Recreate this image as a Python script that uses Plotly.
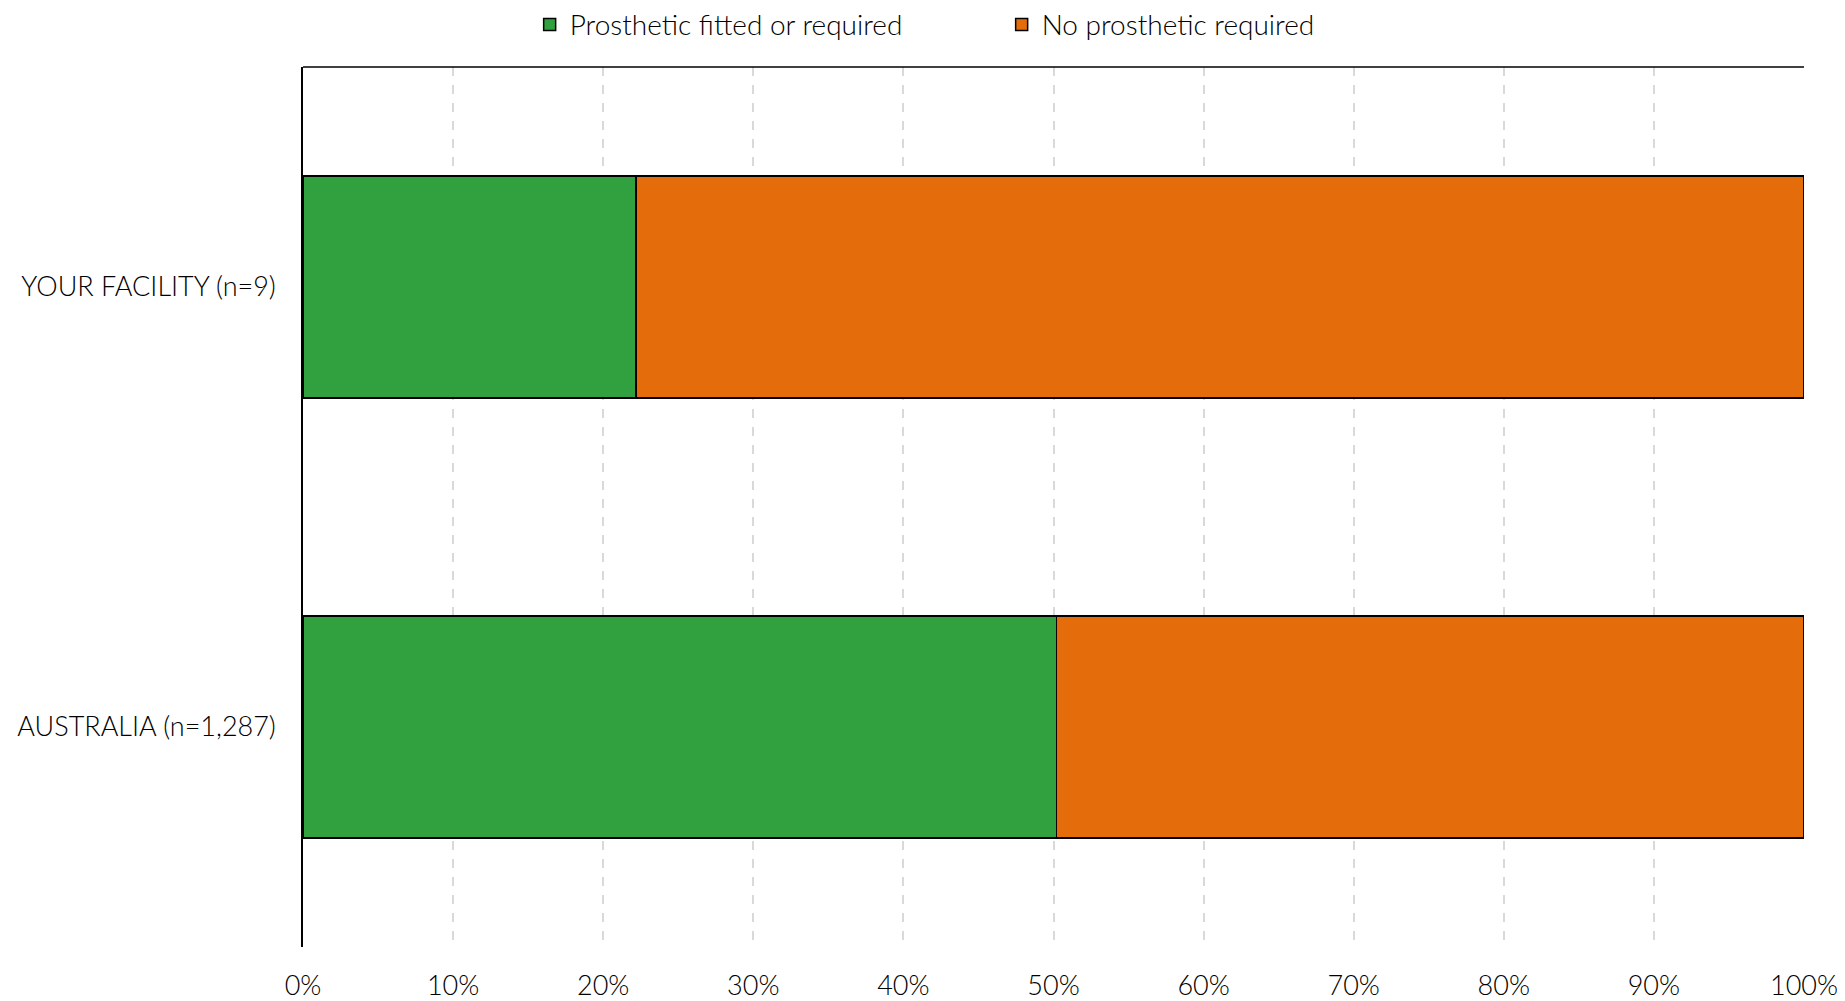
import plotly.graph_objects as go

categories = ["YOUR FACILITY (n=9)", "AUSTRALIA (n=1,287)"]
prosthetic = [22.2, 50.2]
no_prosthetic = [77.8, 49.8]
tick_vals = [0, 10, 20, 30, 40, 50, 60, 70, 80, 90, 100]
tick_text = [f"{v}%" for v in tick_vals]

FONT = "Lato"
FS = 28

fig = go.Figure()
fig.add_trace(go.Bar(
    y=categories, x=prosthetic, orientation="h",
    name="Prosthetic fitted or required",
    marker=dict(color="#31a03f", line=dict(color="black", width=1.5)),
))
fig.add_trace(go.Bar(
    y=categories, x=no_prosthetic, orientation="h",
    name="No prosthetic required",
    marker=dict(color="#e46c0b", line=dict(color="black", width=1.5)),
))

fig.update_layout(
    barmode="stack",
    bargap=0.495,
    width=1837, height=993,
    margin=dict(l=295, r=41, t=59, b=54, autoexpand=False),
    plot_bgcolor="white", paper_bgcolor="white",
    font=dict(family=FONT, size=FS, color="black", weight=300),
    showlegend=True,
    legend=dict(
        orientation="h", xref="paper", yref="paper",
        x=0.151, y=1.048, xanchor="left", yanchor="middle",
        entrywidth=427, entrywidthmode="pixels",
        traceorder="normal",
        font=dict(family=FONT, size=FS, color="black", weight=300),
        itemwidth=30, tracegroupgap=0,
    ),
    xaxis=dict(
        range=[0, 100], tickvals=tick_vals, ticktext=tick_text,
        showgrid=True, gridcolor="#d9d9d9", griddash="dash", gridwidth=1.5,
        zeroline=False, showline=False, ticks="",
        ticklabelstandoff=20, tickangle=0, ticklabeloverflow="allow",
        tickfont=dict(family=FONT, size=FS - 1, color="black", weight=300),
        fixedrange=True,
    ),
    yaxis=dict(
        categoryorder="array", categoryarray=categories[::-1],
        showline=True, linecolor="black", linewidth=1.5,
        showgrid=False, ticks="", ticklabelstandoff=20,
        tickfont=dict(family=FONT, size=FS - 1, color="black", weight=300),
        fixedrange=True,
    ),
    shapes=[dict(type="line", xref="paper", yref="paper", x0=0, x1=1, y0=1, y1=1,
                 line=dict(color="black", width=1.5))],
)

fig.write_html("out.html")
